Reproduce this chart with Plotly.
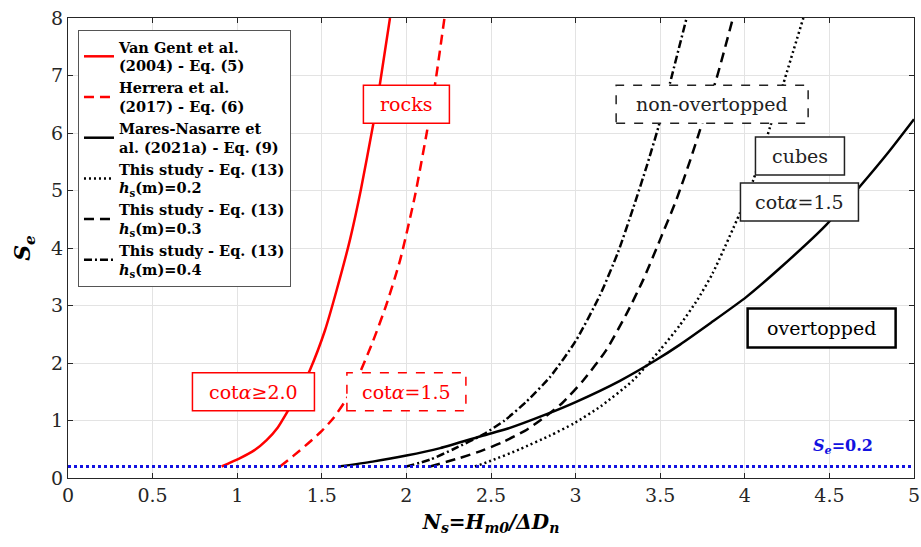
import plotly.graph_objects as go

# ---------------- data ----------------
ns_vg = [0.908, 0.95, 1.017, 1.10, 1.174, 1.24, 1.302, 1.37, 1.43, 1.519, 1.588, 1.667, 1.73, 1.805, 1.844, 1.903]
se_vg = [0.20, 0.255, 0.345, 0.48, 0.66, 0.88, 1.18, 1.52, 1.88, 2.57, 3.27, 4.15, 5.00, 6.17, 6.86, 8.0]

ns_he = [1.253, 1.33, 1.43, 1.50, 1.568, 1.647, 1.72, 1.80, 1.88, 1.962, 2.05, 2.12, 2.17, 2.225]
se_he = [0.20, 0.38, 0.63, 0.82, 1.04, 1.38, 1.80, 2.36, 3.0, 3.78, 4.90, 6.00, 6.86, 8.0]

ns_mn = [1.6, 1.8, 2.0, 2.2, 2.455, 2.6, 2.829, 3.0, 3.262, 3.48, 3.617, 3.8, 4.01, 4.2, 4.474, 4.68, 4.85, 5.0]
se_mn = [0.20, 0.285, 0.39, 0.52, 0.74, 0.86, 1.11, 1.32, 1.69, 2.06, 2.32, 2.70, 3.15, 3.63, 4.38, 5.07, 5.67, 6.24]

ns_h02 = [2.405, 2.5, 2.67, 2.85, 2.99, 3.15, 3.34, 3.5, 3.617, 3.72, 3.81, 3.97, 4.05, 4.15, 4.228, 4.346]
se_h02 = [0.20, 0.30, 0.50, 0.74, 0.95, 1.25, 1.70, 2.23, 2.66, 3.10, 3.56, 4.60, 5.18, 6.11, 6.86, 8.0]

ns_h03 = [2.14, 2.317, 2.45, 2.573, 2.70, 2.79, 2.92, 3.046, 3.18, 3.30, 3.40, 3.50, 3.597, 3.68, 3.735, 3.833, 3.93]
se_h03 = [0.20, 0.35, 0.48, 0.63, 0.82, 1.0, 1.30, 1.70, 2.22, 2.85, 3.45, 4.15, 4.85, 5.55, 6.05, 6.95, 8.0]

ns_h04 = [2.0, 2.14, 2.277, 2.455, 2.58, 2.71, 2.85, 3.0, 3.144, 3.25, 3.341, 3.42, 3.489, 3.558, 3.656]
se_h04 = [0.20, 0.32, 0.50, 0.76, 1.0, 1.33, 1.76, 2.38, 3.18, 3.92, 4.70, 5.42, 6.10, 6.87, 8.0]

se_threshold = 0.2
x_range = [0, 5]
y_range = [0, 8]

legend_names = [
    "Van Gent et al.<br>(2004) - Eq. (5)",
    "Herrera et al.<br>(2017) - Eq. (6)",
    "Mares-Nasarre et<br>al. (2021a) - Eq. (9)",
    "This study - Eq. (13)<br><i>h</i><sub>s</sub>(m)=0.2",
    "This study - Eq. (13)<br><i>h</i><sub>s</sub>(m)=0.3",
    "This study - Eq. (13)<br><i>h</i><sub>s</sub>(m)=0.4",
]

# label boxes: (x, y, text, colour, box width px, box height px, dash, border width)
labels = [
    (2.0, 6.5, "rocks", "#ff0000", 86, 38, "solid", 1.5),
    (1.096, 1.50, "cot<i>α</i>≥2.0", "#ff0000", 122, 38, "solid", 1.5),
    (2.0, 1.50, "cot<i>α</i>=1.5", "#ff0000", 119, 38, "dash", 1.5),
    (3.807, 6.50, "non-overtopped", "#222222", 192, 38, "dash", 1.5),
    (4.326, 5.60, "cubes", "#222222", 89, 38, "solid", 1.5),
    (4.323, 4.80, "cot<i>α</i>=1.5", "#222222", 118, 38, "solid", 1.5),
    (4.454, 2.61, "overtopped", "#000000", 148, 39, "solid", 2.5),
]

RED = "#ff0000"
BLACK = "#000000"
BLUE = "#1212e0"
SERIF = "DejaVu Serif"

fig = go.Figure()


def curve(x, y, name, color, dash=None, width=2.5):
    line = dict(color=color, width=width, shape="spline", smoothing=0.6)
    if dash:
        line["dash"] = dash
    fig.add_trace(go.Scatter(x=x, y=y, mode="lines", name=name, line=line))


curve(ns_vg, se_vg, legend_names[0], RED)
curve(ns_he, se_he, legend_names[1], RED, "10px,6px")
curve(ns_mn, se_mn, legend_names[2], BLACK)
curve(ns_h02, se_h02, legend_names[3], BLACK, "2px,3px")
curve(ns_h03, se_h03, legend_names[4], BLACK, "10px,6px")
curve(ns_h04, se_h04, legend_names[5], BLACK, "8px,3px,2px,3px")
fig.add_trace(go.Scatter(x=x_range, y=[se_threshold, se_threshold], mode="lines",
                         showlegend=False, line=dict(color=BLUE, width=3, dash="3px,3px")))

shapes = []
annotations = []
for (lx, ly, txt, col, w, h, dash, bw) in labels:
    shapes.append(dict(type="rect", xref="x", yref="y", xsizemode="pixel", ysizemode="pixel",
                       xanchor=lx, yanchor=ly, x0=-w / 2, x1=w / 2, y0=-h / 2, y1=h / 2,
                       line=dict(color=col, width=bw, dash=dash), fillcolor="white",
                       layer="above"))
    annotations.append(dict(x=lx, y=ly, xref="x", yref="y", text=txt, showarrow=False,
                            xanchor="center", yanchor="middle",
                            font=dict(family=SERIF, size=19, color=col)))

annotations.append(dict(x=4.58, y=0.55, xref="x", yref="y",
                        text="<b><i>S</i><sub><i>e</i></sub>=0.2</b>", showarrow=False,
                        xanchor="center", yanchor="middle",
                        font=dict(family=SERIF, size=16, color=BLUE)))

axis_common = dict(showline=True, linecolor="#262626", linewidth=1, mirror="allticks",
                   ticks="inside", ticklen=5, tickcolor="#262626", showgrid=True,
                   gridcolor="#e3e3e3", gridwidth=1, zeroline=False, automargin=False,
                   tickfont=dict(family=SERIF, size=19, color="#262626"))

fig.update_layout(
    width=921, height=547,
    margin=dict(l=68, r=7, t=18, b=69),
    paper_bgcolor="white", plot_bgcolor="white",
    font=dict(family=SERIF, color="#000000"),
    xaxis=dict(range=x_range, dtick=0.5, tick0=0,
               title=dict(text="<b><i>N<sub>s</sub>=H<sub>m0</sub>/ΔD<sub>n</sub></i></b>",
                          font=dict(family=SERIF, size=20), standoff=10),
               **axis_common),
    yaxis=dict(range=y_range, dtick=1, tick0=0,
               title=dict(text="<b><i>S<sub>e</sub></i></b>",
                          font=dict(family=SERIF, size=22), standoff=14),
               **axis_common),
    legend=dict(x=0.0118, y=0.974, xanchor="left", yanchor="top",
                bgcolor="white", bordercolor="#555555", borderwidth=1,
                font=dict(family=SERIF, size=14.5, weight="bold", color="#000000"),
                tracegroupgap=0, itemwidth=30),
    shapes=shapes,
    annotations=annotations,
)

fig.write_html("out.html")
